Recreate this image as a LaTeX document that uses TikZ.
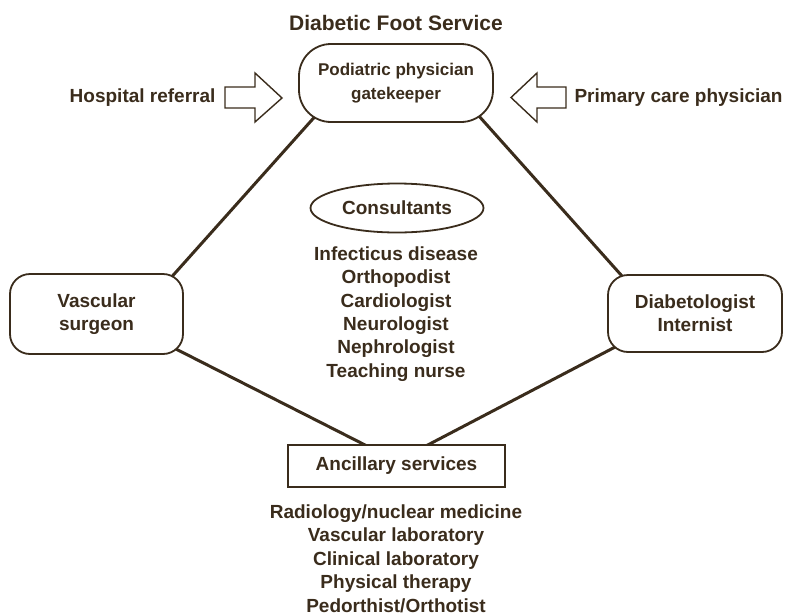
\documentclass[tikz,border=0pt]{standalone}
\usepackage{fontspec}
\setmainfont{Liberation Sans}
\usetikzlibrary{backgrounds,shapes.geometric}
\definecolor{ink}{HTML}{3A2C1C}
\begin{document}
\begin{tikzpicture}[x=1pt,y=-1pt,
  every node/.style={text=ink, font=\bfseries\fontsize{19}{23.4}\selectfont, align=center},
  box/.style={draw=ink, line width=1.8pt, fill=white, inner sep=0pt},
  conn/.style={draw=ink, line width=3pt},
  bigarrow/.style={draw=ink, line width=1.4pt, fill=white, line join=miter},
  ]
\useasboundingbox (0,0) rectangle (793,616);

\node (title) at (396,23) [font=\bfseries\fontsize{21}{24}\selectfont] {Diabetic Foot Service};

\node[box, rounded corners=32pt, minimum width=194pt, minimum height=78pt,
      font=\bfseries\fontsize{17}{24}\selectfont] (gk) at (396,83) {Podiatric physician\\gatekeeper};

\node[box, rounded corners=20pt, minimum width=173pt, minimum height=80pt] (vs) at (96.5,314) {Vascular\\surgeon};
\node[box, rounded corners=20pt, minimum width=174pt, minimum height=77pt] (di) at (695,313.5) {Diabetologist\\Internist};

\node[box, ellipse, minimum width=173pt, minimum height=49pt] (cons) at (397,208) {Consultants};
\node (conslist) at (396,314) {Infecticus disease\\Orthopodist\\Cardiologist\\Neurologist\\Nephrologist\\Teaching nurse};

\node[box, minimum width=217pt, minimum height=42pt] (anc) at (396.5,466) {Ancillary services};
\node (anclist) at (396,558.5) {Radiology/nuclear medicine\\Vascular laboratory\\Clinical laboratory\\Physical therapy\\Pedorthist/Orthotist};

\node[anchor=east] (hosp) at (219,98) {Hospital referral};
\node[anchor=west] (prim) at (571,98) {Primary care physician};

\draw[bigarrow] (225,87) -- (255,87) -- (255,73) -- (282,98) -- (255,122) -- (255,108) -- (225,108) -- cycle;
\draw[bigarrow] (566,87) -- (537,87) -- (537,73) -- (511,97.5) -- (537,122) -- (537,108) -- (566,108) -- cycle;

\coordinate (gkL) at (319,112);
\coordinate (vsT) at (168,281);
\coordinate (gkR) at (474,110.5);
\coordinate (diT) at (626,280.5);
\coordinate (vsB) at (168,345);
\coordinate (ancL) at (371,448);
\coordinate (diB) at (619,345);
\coordinate (ancR) at (422,448);

\begin{pgfonlayer}{background}
\draw[conn] (gkL) -- (vsT);
\draw[conn] (gkR) -- (diT);
\draw[conn] (vsB) -- (ancL);
\draw[conn] (diB) -- (ancR);
\end{pgfonlayer}
\end{tikzpicture}
\end{document}
